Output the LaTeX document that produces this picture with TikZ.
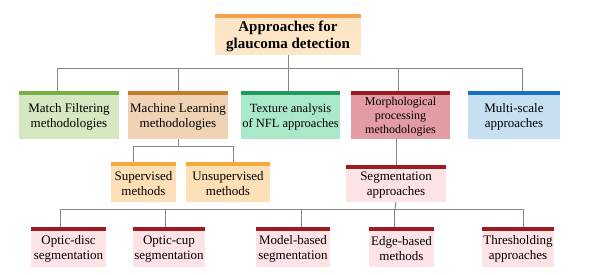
\documentclass[tikz,border=0pt]{standalone}
\usepackage{fontspec}
\setmainfont{Liberation Serif}
\definecolor{rootfill}{HTML}{FDE5C8}
\definecolor{rootbar}{HTML}{F5A04A}
\definecolor{mffill}{HTML}{D6E8C2}
\definecolor{mfbar}{HTML}{76B043}
\definecolor{mlfill}{HTML}{F0D3B4}
\definecolor{mlbar}{HTML}{C67A2C}
\definecolor{txfill}{HTML}{A9E8C9}
\definecolor{txbar}{HTML}{1F9A5C}
\definecolor{mpfill}{HTML}{E39CA3}
\definecolor{mpbar}{HTML}{9B1B22}
\definecolor{msfill}{HTML}{C6E0F1}
\definecolor{msbar}{HTML}{1A6FC2}
\definecolor{supfill}{HTML}{FDE0B8}
\definecolor{supbar}{HTML}{F6AA3C}
\definecolor{segfill}{HTML}{FDE2E6}
\definecolor{segbar}{HTML}{9B1B22}
\begin{document}
\begin{tikzpicture}[x=1pt,y=-1pt,
  every node/.style={font=\fontsize{13}{15}\selectfont,align=center,inner sep=0pt},
  box/.style 2 args={fill=#1,append after command={\pgfextra{\fill[#2] (\tikzlastnode.north west) rectangle ([yshift=4pt]\tikzlastnode.north east);}}},
  conn/.style={draw=gray!95,line width=1pt}]
\useasboundingbox (0,0) rectangle (598,274);
% root
\node[box={rootfill}{rootbar},minimum width=146pt,minimum height=37pt,font=\fontsize{15}{17}\selectfont\bfseries] (root) at (288,36.5) {Approaches for\\glaucoma detection};
% first level
\foreach \n/\x/\w/\fs/\ls/\fc/\bc/\t in {match/69/100/13/15/mffill/mfbar/{Match Filtering\\methodologies},
  ml/178/100/13/15/mlfill/mlbar/{Machine Learning\\methodologies},
  tex/290.5/99/12.5/15/txfill/txbar/{Texture analysis\\of NFL approaches},
  morph/400.5/99/12/14/mpfill/mpbar/{Morphological\\processing\\methodologies},
  multi/514/92/13/15/msfill/msbar/{Multi-scale\\approaches}} {
  \node[box={\fc}{\bc},minimum width=\w pt,minimum height=44pt,font=\fontsize{\fs}{\ls}\selectfont] (\n) at (\x,117) {\t};
}
\coordinate (bus1) at (288,68);
\draw[conn] (root.south) -- (bus1);
\foreach \n/\dx in {match/-12,ml/0,tex/-2.5,morph/-2.5,multi/8}
  \draw[conn] ([shift={(\dx,-4)}]\n.north) |- (bus1);
% second level
\node[box={supfill}{supbar},minimum width=65pt,minimum height=36pt] (sup) at (143.5,184) {Supervised\\methods};
\node[box={supfill}{supbar},minimum width=84pt,minimum height=36pt] (unsup) at (228,184) {Unsupervised\\methods};
\node[box={segfill}{segbar},minimum width=100pt,minimum height=33pt] (seg) at (396,185.5) {Segmentation\\approaches};
\coordinate (bus2) at (178,146);
\draw[conn] (ml.south) -- (bus2);
\draw[conn] ([shift={(-10.5,-4)}]sup.north) |- (bus2);
\draw[conn] ([shift={(5,-4)}]unsup.north) |- (bus2);
\draw[conn] ([xshift=-4.5pt]morph.south) -- ([yshift=4pt]seg.north);
% third level
\foreach \n/\x/\w/\t in {disc/68.5/75/{Optic-disc\\segmentation},
  cup/169/72/{Optic-cup\\segmentation},
  model/293/74/{Model-based\\segmentation},
  edge/401.5/65/{Edge-based\\methods},
  thresh/518/72/{Thresholding\\approaches}} {
  \node[box={segfill}{segbar},minimum width=\w pt,minimum height=36pt] (\n) at (\x,249) {\t};
}
\coordinate (bus3) at (395,209);
\draw[conn] (seg.south) -- (bus3);
\foreach \n/\dx in {disc/-8.5,cup/-4,model/8,edge/-7.5,thresh/5}
  \draw[conn] ([shift={(\dx,-4)}]\n.north) |- (bus3);
\end{tikzpicture}
\end{document}
